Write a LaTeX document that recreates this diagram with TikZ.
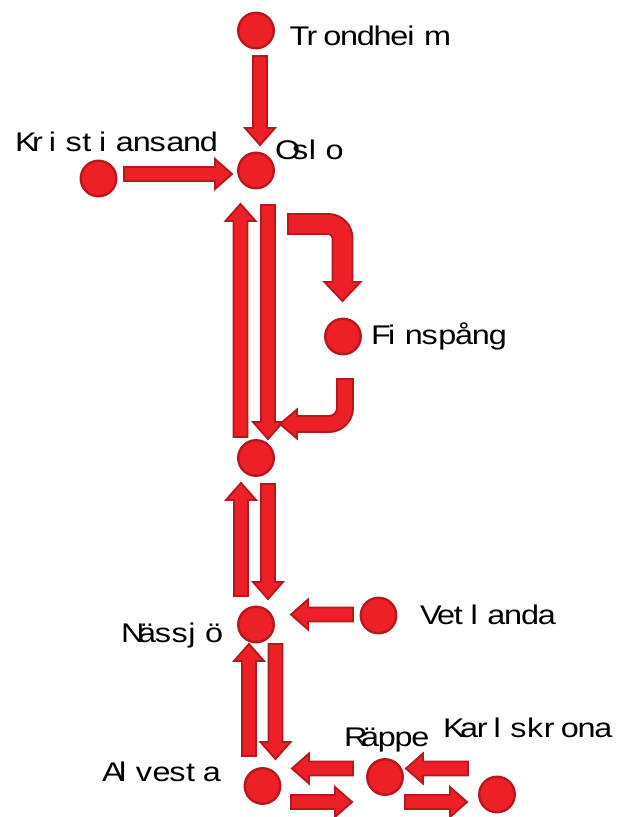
\documentclass[tikz,border=0pt]{standalone}
\usepackage{fontspec}
\newfontfamily\lblfont[FakeStretch=1.2]{Liberation Sans}
\usetikzlibrary{calc}
\definecolor{rfill}{RGB}{237,32,39}
\definecolor{rdraw}{RGB}{183,24,31}
\def\mtext#1{\mtexti#1\relax}
\def\mtexti#1{\ifx\relax#1\else\makebox[16.8pt][l]{#1}\expandafter\mtexti\fi}
\newcommand\barrow[2]{%
  \path[blk] let \p1=(#1), \p2=(#2),
    \n1={atan2(\y2-\y1,\x2-\x1)}, \n2={veclen(\x2-\x1,\y2-\y1)} in
    [shift={(\x1,\y1)}, rotate=\n1]
    (0pt,-7pt) -- (\n2-17pt,-7pt) -- (\n2-17pt,-15pt) -- (\n2,0pt)
    -- (\n2-17pt,15pt) -- (\n2-17pt,7pt) -- (0pt,7pt) -- cycle;}
\begin{document}
\begin{tikzpicture}[x=1pt,y=-1pt,
  city/.style={circle,fill=rfill,draw=rdraw,line width=2.4pt,minimum size=35.5pt,inner sep=0pt},
  lbl/.style={font=\lblfont\fontsize{27}{30}\selectfont,inner sep=0pt,anchor=base west,text=black},
  blk/.style={fill=rfill,draw=rdraw,line width=1.9pt,line join=miter}]
\useasboundingbox (0,0) rectangle (628,817);
% cities
\node[city] (tro) at (256,30.5) {};
\node[city] (osl) at (256,170.5) {};
\node[city] (kri) at (98.5,178.5) {};
\node[city] (fin) at (343,336.5) {};
\node[city] (mid) at (256,458) {};
\node[city] (nas) at (256,624.5) {};
\node[city] (vet) at (378.5,615.5) {};
\node[city] (alv) at (262.5,786) {};
\node[city] (rap) at (385,777) {};
\node[city] (kar) at (497,794.5) {};
% labels
\node[lbl] (ltro) at (289.5,45) {\mtext{Trondheim}};
\node[lbl] (losl) at (275,159) {\mtext{Oslo}};
\node[lbl] (lkri) at (15,151) {\mtext{Kristiansand}};
\node[lbl] (lfin) at (371,344) {\mtext{Finspång}};
\node[lbl] (lvet) at (420,624) {\mtext{Vetlanda}};
\node[lbl] (lnas) at (121,642) {\mtext{Nässjö}};
\node[lbl] (lalv) at (102,781) {\mtext{Alvesta}};
\node[lbl] (lrap) at (344,746) {\mtext{Räppe}};
\node[lbl] (lkar) at (443,737) {\mtext{Karlskrona}};
% straight block arrows
\barrow{$(tro)+(4,25.5)$}{$(osl)+(4,-25.5)$}
\barrow{$(kri)+(25.5,-4.5)$}{$(osl)+(-24,3.5)$}
\barrow{$(osl)+(12,34.5)$}{$(mid)+(12,-19)$}
\barrow{$(mid)+(-15.5,-21)$}{$(osl)+(-15.5,33.5)$}
\barrow{$(mid)+(12,26)$}{$(nas)+(12,-25.5)$}
\barrow{$(nas)+(-15,-28.5)$}{$(mid)+(-15,25)$}
\barrow{$(vet)+(-25.5,-1)$}{$(nas)+(35,-10)$}
\barrow{$(nas)+(19.5,19.5)$}{$(alv)+(13,-27)$}
\barrow{$(alv)+(-13.5,-30)$}{$(nas)+(-7,19.5)$}
\barrow{$(rap)+(-32,-8.5)$}{$(alv)+(29.5,-17.5)$}
\barrow{$(alv)+(28.5,16)$}{$(rap)+(-33,25)$}
\barrow{$(kar)+(-29,-26)$}{$(rap)+(21,-8.5)$}
\barrow{$(rap)+(20,25)$}{$(kar)+(-30,7.5)$}
% curved block arrows
\draw[blk] (288,214) -- (328.5,214) arc[start angle=-90,end angle=0,radius=24]
  -- (352.5,282) -- (360.5,282) -- (342.5,301) -- (324.5,282) -- (332.5,282)
  -- (332.5,238) arc[start angle=0,end angle=-90,radius=4] -- (288,234) -- cycle;
\draw[blk] (337,379) -- (353,379) -- (353,408) arc[start angle=0,end angle=90,radius=24]
  -- (297,432) -- (297,438.5) -- (280,424) -- (297,409.5) -- (297,416)
  -- (329,416) arc[start angle=90,end angle=0,radius=8] -- cycle;
\end{tikzpicture}
\end{document}
